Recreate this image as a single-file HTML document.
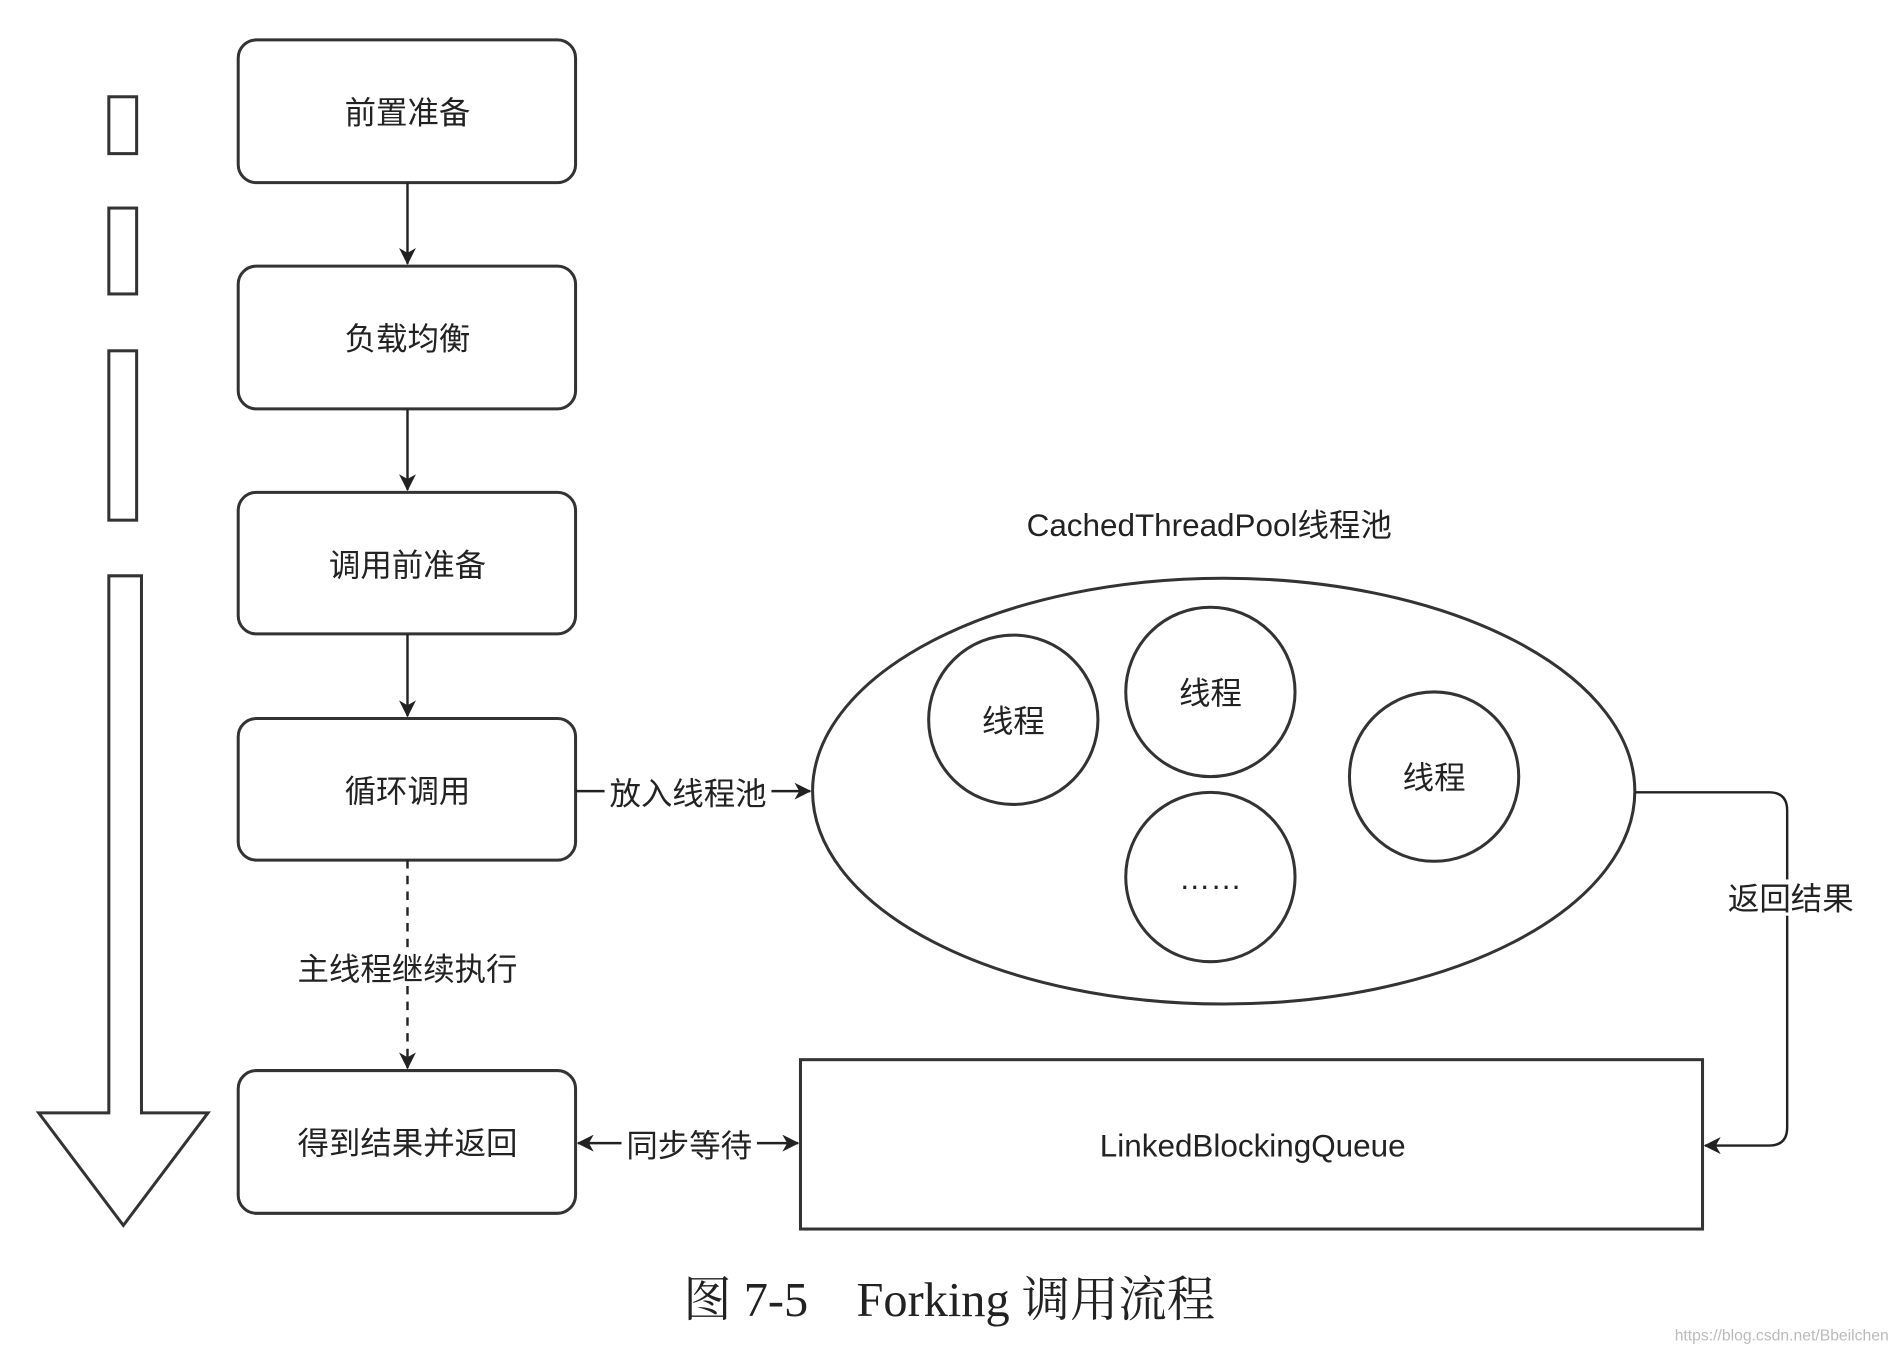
<!DOCTYPE html>
<html><head><meta charset="utf-8"><style>
html,body{margin:0;padding:0;background:#fff;width:1896px;height:1350px;overflow:hidden}
svg text{font-family:"Liberation Sans","Noto Sans CJK SC",sans-serif;fill:#222}
</style></head><body>
<svg width="1896" height="1350" viewBox="0 0 1568 1116" preserveAspectRatio="none" xmlns="http://www.w3.org/2000/svg">
<defs>
<marker id="ar" markerWidth="14" markerHeight="14" refX="13" refY="7" orient="auto" markerUnits="userSpaceOnUse">
<path d="M0,0 L14,7 L0,14 L4,7 Z" fill="#222"/></marker>
<marker id="al" markerWidth="14" markerHeight="14" refX="1" refY="7" orient="auto" markerUnits="userSpaceOnUse">
<path d="M14,0 L0,7 L14,14 L10,7 Z" fill="#222"/></marker>
</defs>
<g fill="#fff" stroke="#333" stroke-width="2.5">
<rect x="90" y="80" width="23" height="47"/>
<rect x="90" y="172" width="23" height="71"/>
<rect x="90" y="290" width="23" height="140"/>
<path d="M90,476 H117 V920 H172 L102,1013 L32,920 H90 Z"/>
<rect x="197" y="33" width="279" height="118" rx="15"/>
<rect x="197" y="220" width="279" height="118" rx="15"/>
<rect x="197" y="407" width="279" height="117" rx="15"/>
<rect x="197" y="594" width="279" height="117" rx="15"/>
<rect x="197" y="885" width="279" height="118" rx="15"/>
<ellipse cx="1012" cy="654" rx="340" ry="176"/>
<circle cx="838" cy="595" r="70"/>
<circle cx="1001" cy="572" r="70"/>
<circle cx="1186" cy="642" r="70"/>
<circle cx="1001" cy="725" r="70"/>
<rect x="662" y="876" width="746" height="140"/>
</g>
<g stroke="#222" stroke-width="2" fill="none">
<line x1="337" y1="151" x2="337" y2="218" marker-end="url(#ar)"/>
<line x1="337" y1="338" x2="337" y2="405" marker-end="url(#ar)"/>
<line x1="337" y1="524" x2="337" y2="592" marker-end="url(#ar)"/>
<line x1="337" y1="711" x2="337" y2="883" stroke-dasharray="7,6" marker-end="url(#ar)"/>
<line x1="476" y1="654" x2="670" y2="654" marker-end="url(#ar)"/>
<line x1="478" y1="945" x2="660" y2="945" marker-start="url(#al)" marker-end="url(#ar)"/>
<path d="M1352,655 H1463 Q1478,655 1478,670 V932 Q1478,947 1463,947 H1410" marker-end="url(#ar)"/>
</g>
<g font-size="26" text-anchor="middle">
<text x="337" y="102">前置准备</text>
<text x="337" y="289">负载均衡</text>
<text x="337" y="476">调用前准备</text>
<text x="337" y="663">循环调用</text>
<text x="337" y="954">得到结果并返回</text>
<rect x="246" y="785" width="182" height="30" fill="#fff"/>
<text x="337" y="810">主线程继续执行</text>
<rect x="500" y="640" width="138" height="30" fill="#fff"/>
<text x="569" y="665">放入线程池</text>
<rect x="514" y="930" width="112" height="30" fill="#fff"/>
<text x="570" y="956">同步等待</text>
<rect x="1425" y="727" width="110" height="30" fill="#fff"/>
<text x="1481" y="752">返回结果</text>
<text x="1000" y="443">CachedThreadPool线程池</text>
<text x="838" y="605">线程</text>
<text x="1001" y="582">线程</text>
<text x="1186" y="652">线程</text>
<text x="1001" y="735">……</text>
<text x="1036" y="956">LinkedBlockingQueue</text>
</g>
<text x="785" y="1088" text-anchor="middle" font-size="40" style="font-family:'Liberation Serif','Noto Serif CJK SC',serif">图 7-5　Forking 调用流程</text>
<text x="1562" y="1108" text-anchor="end" font-size="13" style="fill:#bbb">https://blog.csdn.net/Bbeilchen</text>
</svg>
</body></html>
